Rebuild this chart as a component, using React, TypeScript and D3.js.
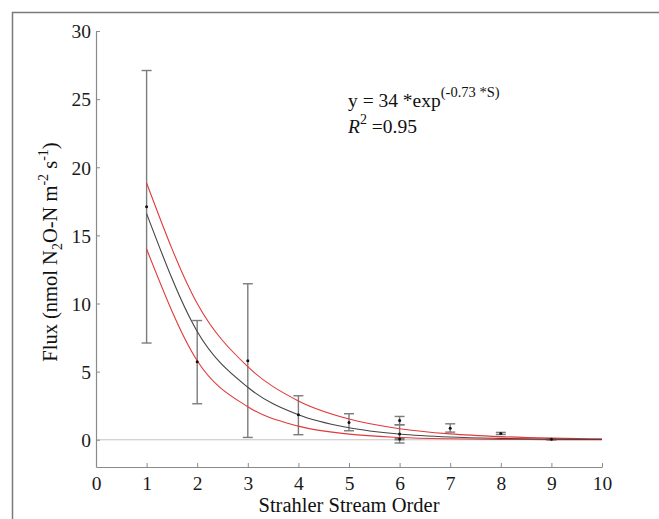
import React, { useEffect, useRef } from 'react';
import * as d3 from 'd3';

// stream orders for error bars (order 6 has several records)
const orders = [1, 2, 3, 4, 5, 6, 6, 6, 7, 8, 9];
const means = [17.1, 5.72, 5.8, 1.83, 1.27, 1.41, 0.43, 0.05, 0.85, 0.46, 0.03];
const lows = [7.1, 2.64, 0.17, 0.37, 0.66, 1.1, -0.24, 0.0, 0.56, 0.39, -0.02];
const highs = [27.1, 8.75, 11.45, 3.23, 1.91, 1.71, 1.1, 0.1, 1.17, 0.54, 0.08];

// fitted curve and its bounds, read at each stream order
const curveX = [1, 2, 3, 4, 5, 6, 7, 8, 9, 10];
const fitMid = [16.6, 7.95, 3.85, 1.83, 0.88, 0.42, 0.2, 0.1, 0.047, 0.023];
const fitUpper = [18.85, 10.0, 5.36, 2.85, 1.52, 0.81, 0.43, 0.23, 0.12, 0.065];
const fitLower = [14.0, 5.8, 2.42, 1.0, 0.41, 0.17, 0.07, 0.03, 0.012, 0.005];

const xTicks = [0, 1, 2, 3, 4, 5, 6, 7, 8, 9, 10];
const yTicks = [0, 5, 10, 15, 20, 25, 30];

function App() {
  const ref = useRef<SVGSVGElement>(null);

  useEffect(() => {
    const width = 659;
    const height = 519;
    const margin = { top: 31, right: 57, bottom: 52, left: 96 };
    const font = '"Liberation Serif", "Times New Roman", serif';

    const svg = d3.select(ref.current)
      .attr('width', width)
      .attr('height', height)
      .style('font-family', font);
    svg.selectAll('*').remove();

    // outer frame of the figure
    svg.append('rect')
      .attr('x', 12.5).attr('y', 12.5)
      .attr('width', width).attr('height', height)
      .attr('fill', 'none').attr('stroke', '#7a7a7a').attr('stroke-width', 1.5);

    const x = d3.scaleLinear().domain([0, 10]).range([margin.left, width - margin.right]);
    const y = d3.scaleLinear().domain([-2, 30]).range([height - margin.bottom, margin.top]);

    // zero reference line
    svg.append('line')
      .attr('x1', x(0)).attr('x2', x(10))
      .attr('y1', y(0)).attr('y2', y(0))
      .attr('stroke', '#c4c4c4').attr('stroke-width', 1);

    const xAxis = svg.append('g')
      .attr('transform', `translate(0,${y(-2)})`)
      .call(d3.axisBottom(x).tickValues(xTicks).tickSizeInner(-4).tickSizeOuter(0).tickPadding(9));
    const yAxis = svg.append('g')
      .attr('transform', `translate(${x(0)},0)`)
      .call(d3.axisLeft(y).tickValues(yTicks).tickSizeInner(-4).tickSizeOuter(0).tickPadding(5));

    [xAxis, yAxis].forEach(g => {
      g.select('.domain').attr('stroke', '#8a8a8a').attr('stroke-width', 1.2);
      g.selectAll('.tick line').attr('stroke', '#8a8a8a');
      g.selectAll('.tick text')
        .attr('fill', '#1a1a1a')
        .style('font-size', '19.5px')
        .style('font-family', font);
    });
    yAxis.selectAll('.tick text').attr('dy', '0.35em');

    const line = d3.line<number>()
      .x((_, i) => x(curveX[i]))
      .y(d => y(d))
      .curve(d3.curveMonotoneX);

    // error bars
    const cap = 5;
    const bars = svg.append('g').attr('stroke', '#7c7c7c').attr('stroke-width', 1.4);
    orders.forEach((o, i) => {
      const cx = x(o);
      bars.append('line').attr('x1', cx).attr('x2', cx).attr('y1', y(lows[i])).attr('y2', y(highs[i]));
      bars.append('line').attr('x1', cx - cap).attr('x2', cx + cap).attr('y1', y(lows[i])).attr('y2', y(lows[i]));
      bars.append('line').attr('x1', cx - cap).attr('x2', cx + cap).attr('y1', y(highs[i])).attr('y2', y(highs[i]));
    });

    svg.append('path').attr('d', line(fitUpper)).attr('fill', 'none').attr('stroke', '#e03a3a').attr('stroke-width', 1.1);
    svg.append('path').attr('d', line(fitLower)).attr('fill', 'none').attr('stroke', '#e03a3a').attr('stroke-width', 1.1);
    svg.append('path').attr('d', line(fitMid)).attr('fill', 'none').attr('stroke', '#444').attr('stroke-width', 1.1);

    svg.append('g').selectAll('circle')
      .data(means)
      .join('circle')
        .attr('cx', (_, i) => x(orders[i]))
        .attr('cy', d => y(d))
        .attr('r', 1.5)
        .attr('fill', '#111');

    // equation annotation
    const eq = svg.append('text').attr('x', 348).attr('y', 107)
      .style('font-size', '19.5px').attr('fill', '#111');
    eq.append('tspan').text('y = 34 *exp');
    eq.append('tspan').attr('dy', -10).style('font-size', '14.5px').text('(-0.73 *S)');

    const r2 = svg.append('text').attr('x', 348).attr('y', 133)
      .style('font-size', '19.5px').attr('fill', '#111');
    r2.append('tspan').style('font-style', 'italic').text('R');
    r2.append('tspan').attr('dy', -9).style('font-size', '14px').text('2');
    r2.append('tspan').attr('dy', 9).text(' =0.95');

    // axis titles
    svg.append('text')
      .attr('x', x(5)).attr('y', 512)
      .attr('text-anchor', 'middle')
      .style('font-size', '20.5px').attr('fill', '#111')
      .text('Strahler Stream Order');

    const yl = svg.append('text')
      .attr('transform', 'translate(57,252) rotate(-90)')
      .attr('text-anchor', 'middle')
      .style('font-size', '20.5px').attr('fill', '#111');
    yl.append('tspan').text('Flux (nmol N');
    yl.append('tspan').attr('dy', 5).style('font-size', '14px').text('2');
    yl.append('tspan').attr('dy', -5).text('O-N m');
    yl.append('tspan').attr('dy', -9).style('font-size', '14px').text('-2');
    yl.append('tspan').attr('dy', 9).text(' s');
    yl.append('tspan').attr('dy', -9).style('font-size', '14px').text('-1');
    yl.append('tspan').attr('dy', 9).text(')');
  }, []);

  return (
    <svg ref={ref} style={{ position: 'absolute', left: 0, top: 0, background: '#fff' }} />
  );
}

export default App;
